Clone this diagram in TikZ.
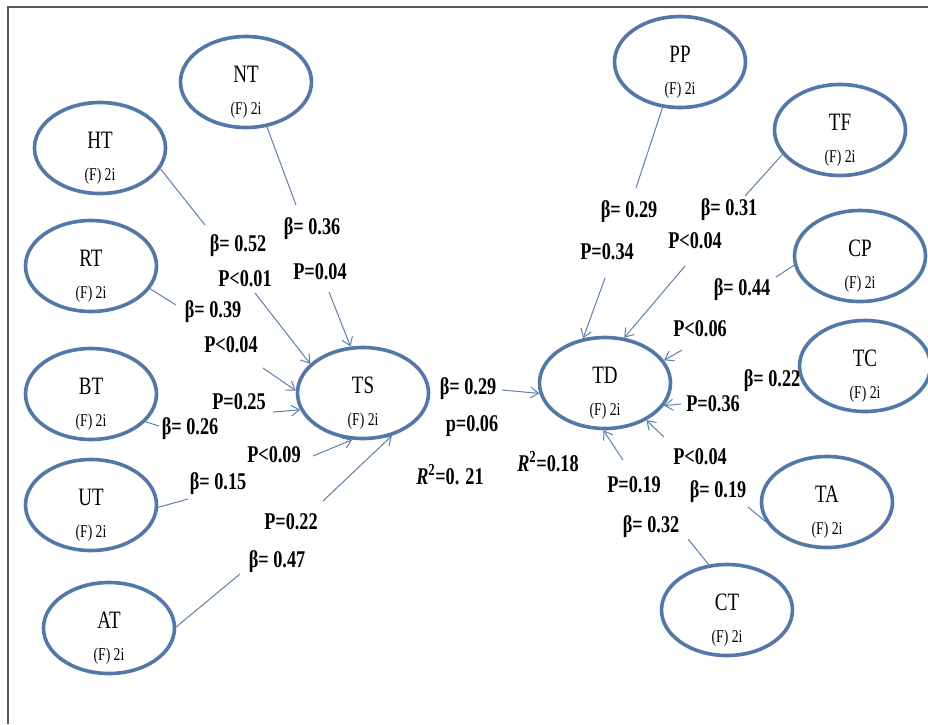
\documentclass[tikz,border=0pt]{standalone}
\usepackage{fontspec}
\setmainfont{Liberation Serif}
\newfontfamily\cf[FakeStretch=0.76]{Liberation Serif}
\usetikzlibrary{shapes.geometric,arrows.meta}
\definecolor{ellblue}{RGB}{82,120,168}
\definecolor{arrblue}{RGB}{95,128,172}
\definecolor{framegray}{RGB}{90,90,90}
\newcommand\constr[3]{%
  \node[ell] (#1) at (#2,#3) {};
  \node[nm, yshift=8pt] (#1n) at (#1.center) {#1};
  \node[sub, yshift=-28pt] (#1s) at (#1.center) {(F) 2i};
}
\begin{document}
\begin{tikzpicture}[x=1pt,y=-1pt,
  ell/.style={ellipse,draw=ellblue,line width=3.6pt,minimum width=131pt,minimum height=91pt,inner sep=0pt},
  nm/.style={font=\cf\fontsize{25}{25}\selectfont,inner sep=0pt},
  sub/.style={font=\cf\fontsize{18}{18}\selectfont,inner sep=0pt},
  lbl/.style={font=\cf\bfseries\fontsize{24}{24}\selectfont,inner sep=0pt},
  conn/.style={draw=arrblue,line width=1pt},
  arr/.style={conn,-{Straight Barb[length=8pt,width=11pt]}}]
\useasboundingbox (0,0) rectangle (928,724);
\fill[white] (0,0) rectangle (928,724);
% frame
\draw[framegray,line width=2pt] (8,724) -- (8,7) -- (928,7);

% constructs
\constr{NT}{246}{82}
\constr{HT}{100}{148}
\constr{RT}{91}{266}
\constr{BT}{91}{394}
\constr{UT}{91}{505}
\constr{AT}{109}{628}
\constr{TS}{363}{393}
\constr{TD}{605}{383}
\constr{PP}{680}{62}
\constr{TF}{840}{130}
\constr{CP}{860}{256}
\constr{TC}{865}{366}
\constr{TA}{827}{502}
\constr{CT}{727}{610}

% break coordinates
\coordinate (cNT) at (296,205);
\coordinate (aNT) at (329,292);
\coordinate (cHT) at (205,225);
\coordinate (aHT) at (255,293);
\coordinate (cRT) at (176,305);
\coordinate (aRT) at (263,368);
\coordinate (cBT) at (159,426);
\coordinate (aBT) at (273,412);
\coordinate (cUT) at (188,499);
\coordinate (aUT) at (313,456);
\coordinate (cAT) at (240,574);
\coordinate (aAT) at (323,501);
\coordinate (aTS) at (502,390);
\coordinate (cPP) at (636,188);
\coordinate (aPP) at (605,278);
\coordinate (cTF) at (745,196);
\coordinate (aTF) at (685,266);
\coordinate (cCP) at (776,277);
\coordinate (aCP) at (682,350);
\coordinate (aTC) at (681,404);
\coordinate (cTA) at (748,507);
\coordinate (aTA) at (664,437);
\coordinate (cCT) at (688,539);
\coordinate (aCT) at (623,460);

% connectors into TS
\draw[conn] (NT.295) -- (cNT);  \draw[arr] (aNT) -- (TS.105);
\draw[conn] (HT.341) -- (cHT);  \draw[arr] (aHT) -- (TS.151);
\draw[conn] (RT.339) -- (cRT);  \draw[arr] (aRT) -- (TS.178);
\draw[conn] (BT.333) -- (cBT);  \draw[arr] (aBT) -- (TS.195);
\draw[conn] (UT.358) -- (cUT);  \draw[arr] (aUT) -- (TS.257);
\draw[conn] (AT.1) -- (cAT);    \draw[arr] (aAT) -- (TS.304);
% TS to TD
\draw[arr] (aTS) -- (TD.189);
% connectors into TD
\draw[conn] (PP.249) -- (cPP);  \draw[arr] (aPP) -- (TD.116);
\draw[conn] (TF.203) -- (cTF);  \draw[arr] (aTF) -- (TD.67);
\draw[conn] (CP.188) -- (cCP);  \draw[arr] (aCP) -- (TD.21);
\draw[arr] (aTC) -- (TD.339);
\draw[conn] (TA.198) -- (cTA);  \draw[arr] (aTA) -- (TD.318);
\draw[conn] (CT.112) -- (cCT);  \draw[arr] (aCT) -- (TD.268);

% labels
\node[lbl] (bNT) at (312,229) {β= 0.36};
\node[lbl] (pNT) at (320,272) {P=0.04};
\node[lbl] (bHT) at (238,246) {β= 0.52};
\node[lbl] (pHT) at (245,279) {P<0.01};
\node[lbl] (bRT) at (213,312) {β= 0.39};
\node[lbl] (pRT) at (231,345) {P<0.04};
\node[lbl] (bBT) at (190,429) {β= 0.26};
\node[lbl] (pBT) at (239,402) {P=0.25};
\node[lbl] (bUT) at (218,484) {β= 0.15};
\node[lbl] (pUT) at (274,455) {P<0.09};
\node[lbl] (bAT) at (277,562) {β= 0.47};
\node[lbl] (pAT) at (291,522) {P=0.22};
\node[lbl] (bTS) at (468,389) {β= 0.29};
\node[lbl] (pTS) at (472,426) {p=0.06};
\node[lbl] (rTS) at (450,475) {\textit{R}\textsuperscript{2}=0. 21};
\node[lbl] (rTD) at (548,462) {\textit{R}\textsuperscript{2}=0.18};
\node[lbl] (bPP) at (629,212) {β= 0.29};
\node[lbl] (pPP) at (607,252) {P=0.34};
\node[lbl] (bTF) at (729,210) {β= 0.31};
\node[lbl] (pTF) at (695,241) {P<0.04};
\node[lbl] (bCP) at (742,290) {β= 0.44};
\node[lbl] (pCP) at (700,329) {P<0.06};
\node[lbl] (bTC) at (772,381) {β= 0.22};
\node[lbl] (pTC) at (713,404) {P=0.36};
\node[lbl] (bTA) at (718,492) {β= 0.19};
\node[lbl] (pTA) at (700,457) {P<0.04};
\node[lbl] (bCT) at (651,527) {β= 0.32};
\node[lbl] (pCT) at (634,485) {P=0.19};
\end{tikzpicture}
\end{document}
